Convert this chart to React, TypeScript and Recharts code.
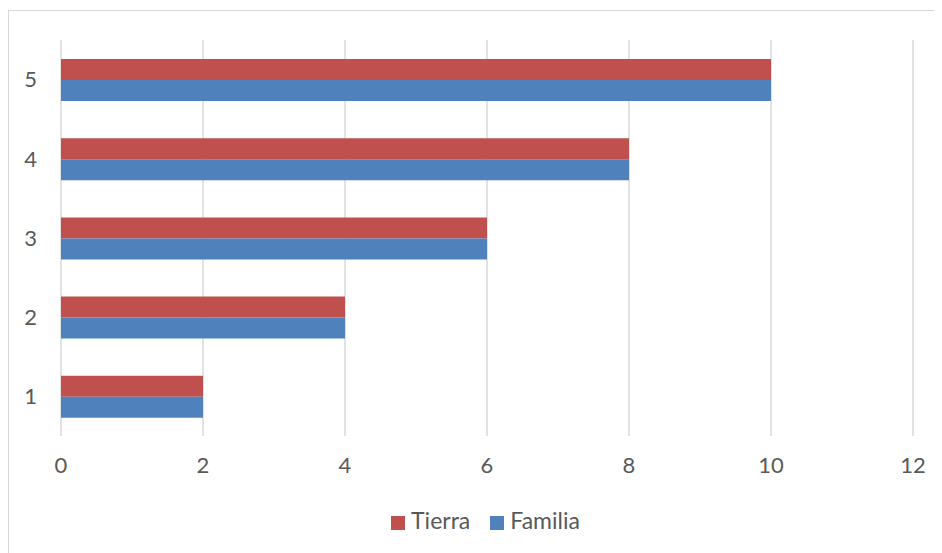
import { BarChart, Bar, XAxis, YAxis, CartesianGrid, Legend } from "recharts";

const categories = ["1", "2", "3", "4", "5"];
const tierra = [2, 4, 6, 8, 10];
const familia = [2, 4, 6, 8, 10];
const xTicks = [0, 2, 4, 6, 8, 10, 12];
const legendOrder = ["Tierra", "Familia"];

const data = categories.map((c, i) => ({
  cat: c,
  Tierra: tierra[i],
  Familia: familia[i],
}));

const font = "Lato, 'Open Sans', sans-serif";
const tickStyle = { fill: "#595959", fontSize: 22, fontFamily: font };

export default function App() {
  return (
    <div
      style={{
        marginTop: 2,
        width: 950,
        height: 548,
        border: "1px solid #d9d9d9",
        boxSizing: "border-box",
        background: "#fff",
      }}
    >
      <BarChart
        width={933}
        height={546}
        data={data}
        layout="vertical"
        margin={{ top: 29, right: 29, left: 0, bottom: 41 }}
        barCategoryGap="24%"
        barGap={0}
      >
        <CartesianGrid stroke="#d9d9d9" strokeWidth={1.5} vertical horizontal={false} />
        <XAxis
          type="number"
          domain={[0, 12]}
          ticks={xTicks}
          axisLine={false}
          tickLine={false}
          tickMargin={15}
          height={50}
          tick={tickStyle}
          interval={0}
        />
        <YAxis
          type="category"
          dataKey="cat"
          reversed
          width={52}
          axisLine={false}
          tickLine={false}
          tickMargin={18}
          tick={tickStyle}
        />
        <Legend
          verticalAlign="bottom"
          iconType="square"
          iconSize={14}
          itemSorter={(item: any) => legendOrder.indexOf(item.value)}
          wrapperStyle={{
            bottom: 22,
            left: 20,
            width: 933,
            fontFamily: font,
            fontSize: 23,
            lineHeight: "30px",
          }}
          formatter={(value) => (
            <span style={{ color: "#595959", marginLeft: 2, marginRight: 10 }}>{value}</span>
          )}
        />
        <Bar dataKey="Tierra" fill="#C0504D" isAnimationActive={false} />
        <Bar dataKey="Familia" fill="#4F81BD" isAnimationActive={false} />
      </BarChart>
    </div>
  );
}
